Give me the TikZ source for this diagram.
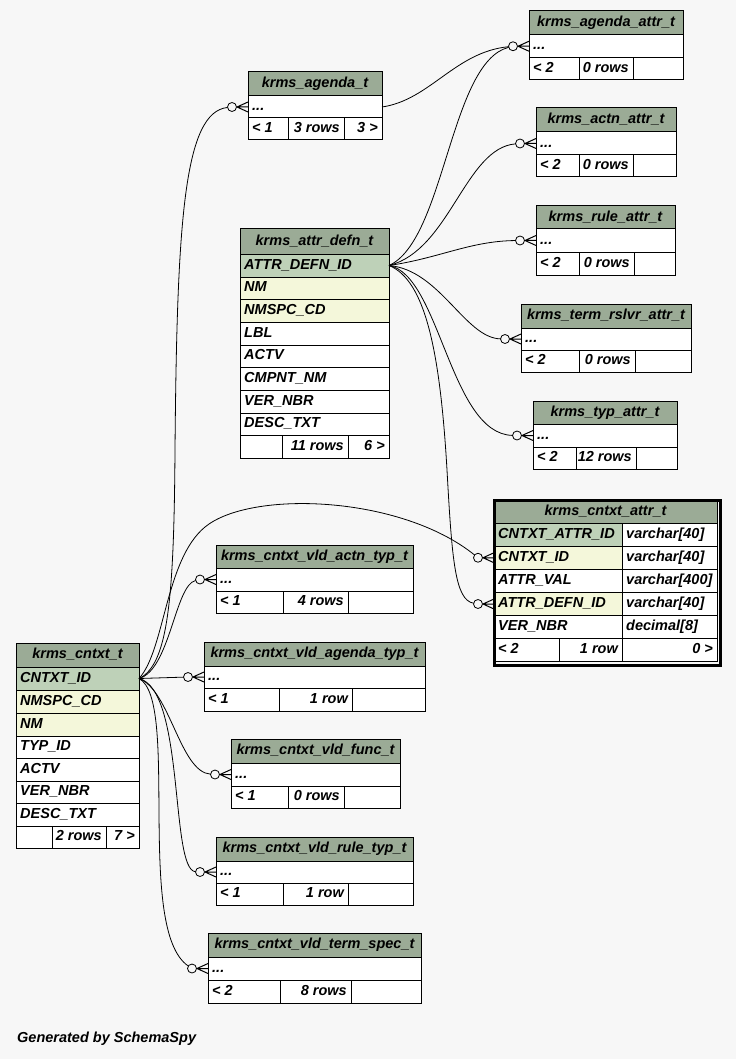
\documentclass[tikz,border=0pt]{standalone}
\usepackage{fontspec}
\setmainfont{Liberation Sans}
\definecolor{bgc}{HTML}{F7F7F7}
\definecolor{hdc}{HTML}{9BAB96}
\definecolor{pkc}{HTML}{BED1B8}
\definecolor{ixc}{HTML}{F4F7DA}
\newcommand\tfont{\fontsize{14.5}{16}\selectfont\bfseries\itshape}
\tikzset{
  tcell/.style={draw=black, line width=1pt, anchor=north west, inner sep=0pt, outer sep=0pt},
  txt/.style={font=\tfont, inner sep=0pt, text height=10.5pt, text depth=3pt},
  edge/.style={draw=black, line width=0.8pt},
  ring/.style={circle, draw=black, fill=bgc, line width=0.8pt, minimum size=9pt, inner sep=0pt, outer sep=0pt},
  crowline/.style={draw=black, line width=1pt},
}
% name, x1, y1, x2, y2, fill
\newcommand\skbox[6]{\node[tcell, fill=#6, minimum width={#4pt-#2pt}, minimum height={#5pt-#3pt}] (#1) at (#2,#3) {};}
\newcommand\skL[7]{\skbox{#1}{#2}{#3}{#4}{#5}{#6}\node[txt, anchor=west] (#1-t) at ([xshift=4pt]#1.west) {#7};}
\newcommand\skC[7]{\skbox{#1}{#2}{#3}{#4}{#5}{#6}\node[txt] (#1-t) at (#1.center) {#7};}
\newcommand\skR[7]{\skbox{#1}{#2}{#3}{#4}{#5}{#6}\node[txt, anchor=east] (#1-t) at ([xshift=-4pt]#1.east) {#7};}
\newcommand\skcrow[1]{%
  \node[ring] (#1-o) at ([xshift=-16pt]#1.west) {};
  \draw[crowline] ([xshift=-11pt]#1.west) -- ([yshift=5pt]#1.west)
                  ([xshift=-11pt]#1.west) -- (#1.west)
                  ([xshift=-11pt]#1.west) -- ([yshift=-5pt]#1.west);}
% compact table body: #1 name, #2 x1, #3 x2, #4 y0, #5 y1, #6 y2, #7 y3, #8 col1, #9 col2
\newcommand\sksmall[9]{%
  \skL{#1-r}{#2}{#5}{#3}{#6}{white}{...}
  \skbox{#1-f1}{#2}{#6}{#8}{#7}{white}
  \skbox{#1-f2}{#8}{#6}{#9}{#7}{white}
  \skbox{#1-f3}{#9}{#6}{#3}{#7}{white}}
\begin{document}
\begin{tikzpicture}[x=1pt,y=-1pt]
\fill[bgc] (0,0) rectangle (736,1059);
\useasboundingbox (0,0) rectangle (736,1059);

% ---------- small tables ----------
% krms_agenda_attr_t
\skC{aat-h}{529}{11}{683}{35}{hdc}{krms\_agenda\_attr\_t}
\sksmall{aat}{529}{683}{11}{35}{57.5}{80}{579}{633}
\node[txt, anchor=west] (aat-f1-t) at ([xshift=4pt]aat-f1.west) {< 2};
\node[txt, anchor=east] (aat-f2-t) at ([xshift=-4pt]aat-f2.east) {0 rows};

% krms_agenda_t
\skC{agt-h}{248}{72}{382}{96}{hdc}{krms\_agenda\_t}
\sksmall{agt}{248}{382}{72}{96}{118}{140}{288}{344}
\node[txt, anchor=west] (agt-f1-t) at ([xshift=4pt]agt-f1.west) {< 1};
\node[txt, anchor=east] (agt-f2-t) at ([xshift=-4pt]agt-f2.east) {3 rows};
\node[txt, anchor=east] (agt-f3-t) at ([xshift=-4pt]agt-f3.east) {3 >};

% krms_actn_attr_t
\skC{acn-h}{536}{108}{676}{132}{hdc}{krms\_actn\_attr\_t}
\sksmall{acn}{536}{676}{108}{132}{155}{177}{579}{633}
\node[txt, anchor=west] (acn-f1-t) at ([xshift=4pt]acn-f1.west) {< 2};
\node[txt, anchor=east] (acn-f2-t) at ([xshift=-4pt]acn-f2.east) {0 rows};

% krms_rule_attr_t
\skC{rla-h}{536}{206}{675}{229}{hdc}{krms\_rule\_attr\_t}
\sksmall{rla}{536}{675}{206}{229}{252}{275}{579}{634}
\node[txt, anchor=west] (rla-f1-t) at ([xshift=4pt]rla-f1.west) {< 2};
\node[txt, anchor=east] (rla-f2-t) at ([xshift=-4pt]rla-f2.east) {0 rows};

% krms_term_rslvr_attr_t
\skC{trs-h}{521}{304}{691}{328}{hdc}{krms\_term\_rslvr\_attr\_t}
\sksmall{trs}{521}{691}{304}{328}{350}{372}{579}{635}
\node[txt, anchor=west] (trs-f1-t) at ([xshift=4pt]trs-f1.west) {< 2};
\node[txt, anchor=east] (trs-f2-t) at ([xshift=-4pt]trs-f2.east) {0 rows};

% krms_typ_attr_t
\skC{tya-h}{533}{401}{677}{424}{hdc}{krms\_typ\_attr\_t}
\sksmall{tya}{533}{677}{401}{424}{447}{469}{576}{636}
\node[txt, anchor=west] (tya-f1-t) at ([xshift=4pt]tya-f1.west) {< 2};
\node[txt, anchor=east] (tya-f2-t) at ([xshift=-4pt]tya-f2.east) {12 rows};

% krms_cntxt_vld_actn_typ_t
\skC{acy-h}{216}{545}{413}{568}{hdc}{krms\_cntxt\_vld\_actn\_typ\_t}
\sksmall{acy}{216}{413}{545}{568}{591}{613}{283}{348}
\node[txt, anchor=west] (acy-f1-t) at ([xshift=4pt]acy-f1.west) {< 1};
\node[txt, anchor=east] (acy-f2-t) at ([xshift=-4pt]acy-f2.east) {4 rows};

% krms_cntxt_vld_agenda_typ_t
\skC{agy-h}{204}{642}{425}{666}{hdc}{krms\_cntxt\_vld\_agenda\_typ\_t}
\sksmall{agy}{204}{425}{642}{666}{688}{711}{279}{352}
\node[txt, anchor=west] (agy-f1-t) at ([xshift=4pt]agy-f1.west) {< 1};
\node[txt, anchor=east] (agy-f2-t) at ([xshift=-4pt]agy-f2.east) {1 row};

% krms_cntxt_vld_func_t
\skC{fnc-h}{231}{739}{400}{763}{hdc}{krms\_cntxt\_vld\_func\_t}
\sksmall{fnc}{231}{400}{739}{763}{786}{808}{288}{344}
\node[txt, anchor=west] (fnc-f1-t) at ([xshift=4pt]fnc-f1.west) {< 1};
\node[txt, anchor=east] (fnc-f2-t) at ([xshift=-4pt]fnc-f2.east) {0 rows};

% krms_cntxt_vld_rule_typ_t
\skC{rut-h}{216}{837}{413}{861}{hdc}{krms\_cntxt\_vld\_rule\_typ\_t}
\sksmall{rut}{216}{413}{837}{861}{883}{905}{283}{348}
\node[txt, anchor=west] (rut-f1-t) at ([xshift=4pt]rut-f1.west) {< 1};
\node[txt, anchor=east] (rut-f2-t) at ([xshift=-4pt]rut-f2.east) {1 row};

% krms_cntxt_vld_term_spec_t
\skC{tsp-h}{208}{933}{421}{957}{hdc}{krms\_cntxt\_vld\_term\_spec\_t}
\sksmall{tsp}{208}{421}{933}{957}{980}{1003}{280}{351}
\node[txt, anchor=west] (tsp-f1-t) at ([xshift=4pt]tsp-f1.west) {< 2};
\node[txt, anchor=east] (tsp-f2-t) at ([xshift=-4pt]tsp-f2.east) {8 rows};

% ---------- krms_attr_defn_t ----------
\skC{atd-h}{240}{229}{389}{254}{hdc}{krms\_attr\_defn\_t}
\skL{atd-r1}{240}{254}{389}{277}{pkc}{ATTR\_DEFN\_ID}
\skL{atd-r2}{240}{277}{389}{299}{ixc}{NM}
\skL{atd-r3}{240}{299}{389}{322}{ixc}{NMSPC\_CD}
\skL{atd-r4}{240}{322}{389}{345}{white}{LBL}
\skL{atd-r5}{240}{345}{389}{367}{white}{ACTV}
\skL{atd-r6}{240}{367}{389}{390}{white}{CMPNT\_NM}
\skL{atd-r7}{240}{390}{389}{413}{white}{VER\_NBR}
\skL{atd-r8}{240}{413}{389}{435}{white}{DESC\_TXT}
\skbox{atd-f1}{240}{435}{282}{458}{white}
\skR{atd-f2}{282}{435}{348}{458}{white}{11 rows}
\skR{atd-f3}{348}{435}{389}{458}{white}{6 >}

% ---------- krms_cntxt_t ----------
\skC{cxt-h}{16}{643}{139}{667}{hdc}{krms\_cntxt\_t}
\skL{cxt-r1}{16}{667}{139}{690}{pkc}{CNTXT\_ID}
\skL{cxt-r2}{16}{690}{139}{713}{ixc}{NMSPC\_CD}
\skL{cxt-r3}{16}{713}{139}{736}{ixc}{NM}
\skL{cxt-r4}{16}{736}{139}{758}{white}{TYP\_ID}
\skL{cxt-r5}{16}{758}{139}{781}{white}{ACTV}
\skL{cxt-r6}{16}{781}{139}{803}{white}{VER\_NBR}
\skL{cxt-r7}{16}{803}{139}{826}{white}{DESC\_TXT}
\skbox{cxt-f1}{16}{826}{52}{848}{white}
\skR{cxt-f2}{52}{826}{106}{848}{white}{2 rows}
\skR{cxt-f3}{106}{826}{139}{848}{white}{7 >}

% ---------- krms_cntxt_attr_t ----------
\skC{cat-h}{494}{500}{717}{523}{hdc}{krms\_cntxt\_attr\_t}
\skL{cat-r1}{494}{523}{622}{546}{pkc}{CNTXT\_ATTR\_ID}
\skL{cat-r1b}{622}{523}{717}{546}{white}{varchar[40]}
\skL{cat-r2}{494}{546}{622}{569.5}{ixc}{CNTXT\_ID}
\skL{cat-r2b}{622}{546}{717}{569.5}{white}{varchar[40]}
\skL{cat-r3}{494}{569.5}{622}{592.5}{white}{ATTR\_VAL}
\skL{cat-r3b}{622}{569.5}{717}{592.5}{white}{varchar[400]}
\skL{cat-r4}{494}{592.5}{622}{615.5}{ixc}{ATTR\_DEFN\_ID}
\skL{cat-r4b}{622}{592.5}{717}{615.5}{white}{varchar[40]}
\skL{cat-r5}{494}{615.5}{622}{638.5}{white}{VER\_NBR}
\skL{cat-r5b}{622}{615.5}{717}{638.5}{white}{decimal[8]}
\skL{cat-f1}{494}{638.5}{559}{661.5}{white}{< 2}
\skR{cat-f2}{559}{638.5}{622}{661.5}{white}{1 row}
\skR{cat-f3}{622}{638.5}{717}{661.5}{white}{0 >}
\node[draw=black, line width=3pt, anchor=north west, inner sep=0pt, minimum width=226pt, minimum height=165pt] (cat-frame) at (492.5,498.5) {};

% ---------- crow's feet (child ends) ----------
\skcrow{aat-r}
\skcrow{agt-r}
\skcrow{acn-r}
\skcrow{rla-r}
\skcrow{trs-r}
\skcrow{tya-r}
\skcrow{acy-r}
\skcrow{agy-r}
\skcrow{fnc-r}
\skcrow{rut-r}
\skcrow{tsp-r}
\skcrow{cat-r2}
\skcrow{cat-r4}

% ---------- connectors ----------
\draw[edge] (agt-r.east) .. controls (430,100) and (455,52) .. (aat-r-o);
\draw[edge] (atd-r1.east) .. controls (445,240) and (450,62) .. (aat-r-o);
\draw[edge] (atd-r1.east) .. controls (450,250) and (465,148) .. (acn-r-o);
\draw[edge] (atd-r1.east) .. controls (440,258) and (470,241) .. (rla-r-o);
\draw[edge] (atd-r1.east) .. controls (440,270) and (465,338) .. (trs-r-o);
\draw[edge] (atd-r1.east) .. controls (440,275) and (450,434) .. (tya-r-o);
\draw[edge] (atd-r1.east) .. controls (425,280) and (440,350) .. (447,470) .. controls (452,560) and (455,600) .. (cat-r4-o);

\draw[edge] (cxt-r1.east) .. controls (168,665) and (174,600) .. (175,450) .. controls (177,220) and (184,112) .. (agt-r-o);
\draw[edge] (cxt-r1.east) .. controls (165,650) and (165,560) .. (205,527) .. controls (250,490) and (400,495) .. (cat-r2-o);
\draw[edge] (cxt-r1.east) .. controls (170,670) and (175,585) .. (acy-r-o);
\draw[edge] (cxt-r1.east) -- (agy-r-o);
\draw[edge] (cxt-r1.east) .. controls (170,690) and (180,772) .. (fnc-r-o);
\draw[edge] (cxt-r1.east) .. controls (185,690) and (170,870) .. (rut-r-o);
\draw[edge] (cxt-r1.east) .. controls (180,700) and (135,930) .. (tsp-r-o);

\node[txt, anchor=west] (footer) at (17,1039) {Generated by SchemaSpy};
\end{tikzpicture}
\end{document}
